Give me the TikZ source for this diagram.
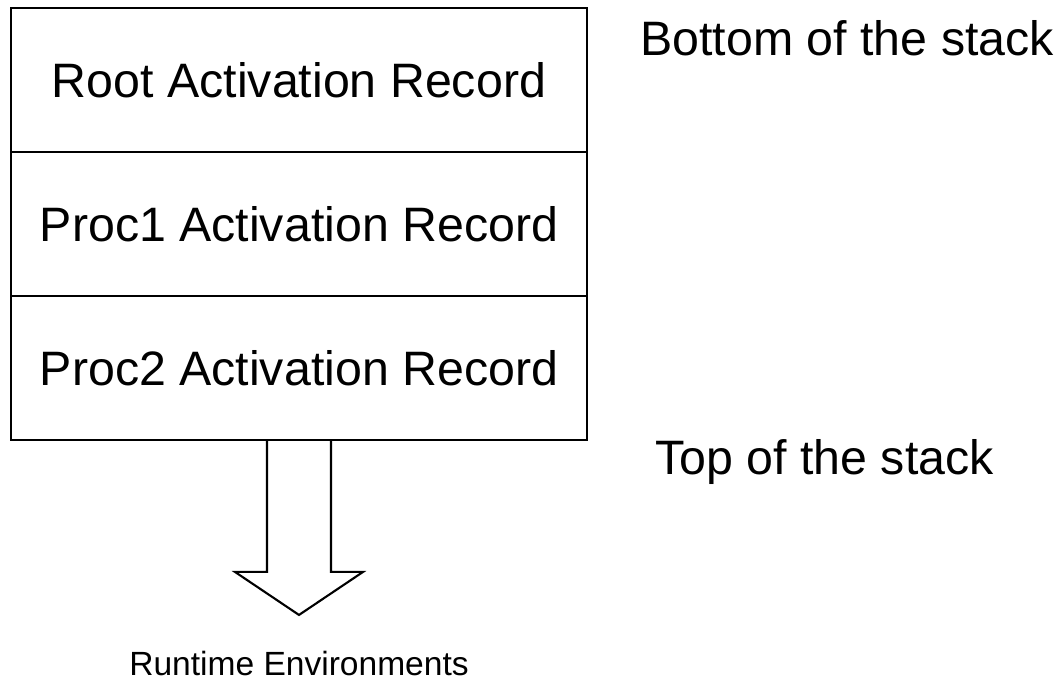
\documentclass[tikz,border=0pt]{standalone}
\usepackage{fontspec}
\setmainfont{Liberation Sans}
\usetikzlibrary{positioning}

\begin{document}
\begin{tikzpicture}[x=0.02cm, y=-0.02cm,
    record/.style={draw, rectangle, line width=1.4pt, outer sep=0pt, inner sep=0pt,
        minimum width=11.52cm, minimum height=2.88cm, font=\fontsize{27.5}{33}\selectfont},
    note/.style={anchor=base west, inner sep=0pt, font=\fontsize{27.5}{33}\selectfont}]
    \useasboundingbox (0,0) rectangle (1061,680);

    % Stack of activation records
    \node[record] (root) at (299,80) {Root Activation Record};
    \node[record, below=0cm of root] (procone) {Proc1 Activation Record};
    \node[record, below=0cm of procone] (proctwo) {Proc2 Activation Record};

    \node[note] (bottom) at (640,55) {Bottom of the stack};
    \node[note] (top) at (655,474) {Top of the stack};

    % Block arrow growing out of the stack
    \draw[line width=1.2pt, line join=miter] (proctwo.south) ++(-32,0) -- ++(0,132) -- ++(-32,0)
        -- ++(64,43) -- ++(64,-43) -- ++(-32,0) -- ++(0,-132);
    \node[anchor=base, inner sep=0pt, font=\fontsize{19.1}{23}\selectfont] (runtime) at (299,675) {Runtime Environments};
\end{tikzpicture}
\end{document}
